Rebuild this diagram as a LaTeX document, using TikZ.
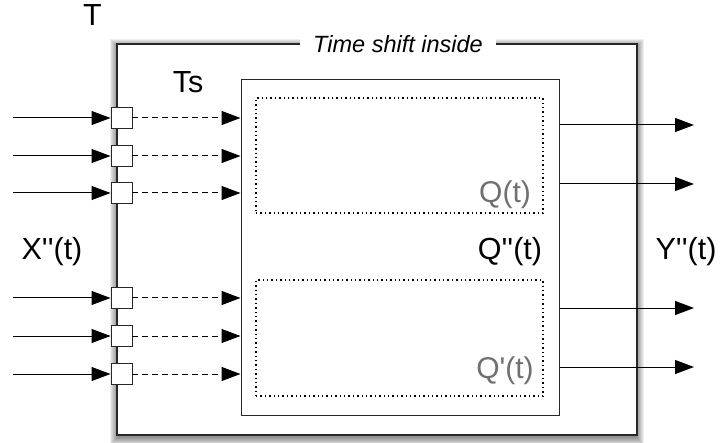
\documentclass[tikz,border=0pt]{standalone}
\usepackage{fontspec}
\setmainfont{Liberation Sans}
\usetikzlibrary{arrows.meta}
\definecolor{qgray}{RGB}{112,112,112}
\definecolor{edge}{RGB}{40,40,40}
\tikzset{
  lab/.style={font=\fontsize{30.5}{36}\selectfont, inner sep=0pt, anchor=base},
  qlab/.style={lab, font=\fontsize{30}{36}\selectfont, text=qgray},
  portbox/.style={draw=edge, fill=white, minimum size=21pt, inner sep=0pt, line width=0.9pt},
  arr/.style={-{Triangle[length=19pt,width=14pt]}, line width=1pt},
  darr/.style={arr, dash pattern=on 6pt off 4pt},
  dotbox/.style={draw, dash pattern=on 1.4pt off 3pt, line width=1.2pt, inner sep=0pt},
  plainbox/.style={draw=edge, inner sep=0pt},
}
\begin{document}
\begin{tikzpicture}[x=1pt,y=-1pt]
\useasboundingbox (0,0) rectangle (722,443);
% soft shadow of the outer box
\foreach \k in {0,1,2,3,4,5,6,7}{
  \fill[black,opacity=0.065] (117-\k,46-\k) rectangle (637+\k,438+\k);
}
\node[plainbox, fill=white, line width=1.3pt, minimum width=520pt, minimum height=391pt] (T) at (377,239.5) {};
\node[fill=white, inner xsep=13.5pt, inner ysep=3pt, anchor=base, font=\fontsize{23.5}{28}\selectfont\itshape] (title) at (398,53) {Time shift inside};
\node[plainbox, fill=white, line width=1pt, minimum width=318pt, minimum height=335pt] (I) at (400,247.5) {};
\node[dotbox, minimum width=287pt, minimum height=115pt] (D1) at (399.5,155.5) {};
\node[dotbox, minimum width=287pt, minimum height=116pt] (D2) at (399.5,338) {};

% labels
\node[lab] (lT) at (92.5,26) {T};
\node[lab] (lTs) at (188,93) {Ts};
\node[lab] (lX) at (52,260) {X\textquotesingle\textquotesingle(t)};
\node[lab] (lY) at (686,260) {Y\textquotesingle\textquotesingle(t)};
\node[lab] (lQ2) at (510,260) {Q\textquotesingle\textquotesingle(t)};
\node[qlab] (lQ) at (505,203) {Q(t)};
\node[qlab] (lQ1) at (505,378) {Q\textquotesingle(t)};

% input ports
\foreach \i/\y in {1/118,2/156,3/193,4/298,5/336,6/374}{
  \coordinate (in\i) at (13,\y);
  \node[portbox] (p\i) at (121.5,\y) {};
  \draw[arr] (in\i) -- (p\i.west);
  \draw[darr] (p\i.east) -- (p\i.east -| I.west);
}
% outputs
\foreach \i/\y in {1/125,2/184,3/308,4/367}{
  \coordinate (out\i) at (694,\y);
  \draw[arr] (out\i -| I.east) -- (out\i);
}
\end{tikzpicture}
\end{document}
